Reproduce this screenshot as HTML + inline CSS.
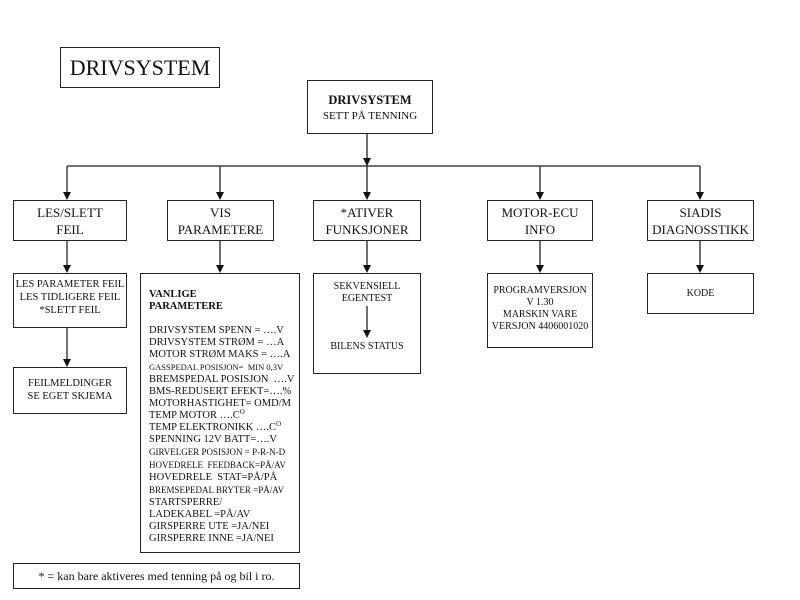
<!DOCTYPE html>
<html><head><meta charset="utf-8"><style>
body{margin:0;width:800px;height:600px;background:#fff;position:relative;overflow:hidden;font-family:"Liberation Serif",serif;color:#111}
.b{position:absolute;border:1.5px solid #222;box-sizing:border-box;text-align:center;background:#fff}
.t{position:absolute;text-align:center;white-space:nowrap}
svg{position:absolute;left:0;top:0}
.s{font-size:7px;position:relative;top:-4px;line-height:0}
</style></head><body>
<svg width="800" height="600">
<g stroke="#222" stroke-width="1.3" fill="none">
<line x1="367" y1="133" x2="367" y2="196"/>
<line x1="67" y1="166" x2="700" y2="166"/>
<line x1="67" y1="166" x2="67" y2="196"/>
<line x1="220" y1="166" x2="220" y2="196"/>
<line x1="540" y1="166" x2="540" y2="196"/>
<line x1="700" y1="166" x2="700" y2="196"/>
<line x1="67" y1="240" x2="67" y2="269"/>
<line x1="220" y1="240" x2="220" y2="269"/>
<line x1="367" y1="240" x2="367" y2="269"/>
<line x1="540" y1="240" x2="540" y2="269"/>
<line x1="700" y1="240" x2="700" y2="269"/>
<line x1="67" y1="327" x2="67" y2="363"/>
</g>
<g fill="#111">
<path d="M363,158 L371,158 L367,166 z"/>
<path d="M63,192 L71,192 L67,200 z"/>
<path d="M216,192 L224,192 L220,200 z"/>
<path d="M363,192 L371,192 L367,200 z"/>
<path d="M536,192 L544,192 L540,200 z"/>
<path d="M696,192 L704,192 L700,200 z"/>
<path d="M63,265 L71,265 L67,273 z"/>
<path d="M216,265 L224,265 L220,273 z"/>
<path d="M363,265 L371,265 L367,273 z"/>
<path d="M536,265 L544,265 L540,273 z"/>
<path d="M696,265 L704,265 L700,273 z"/>
<path d="M63,359 L71,359 L67,367 z"/>
</g></svg>
<div class="b" style="left:60px;top:47px;width:160px;height:41px;font-size:22px;line-height:39px">DRIVSYSTEM</div>
<div class="b" style="left:307px;top:80px;width:126px;height:54px;font-size:11px;line-height:15px;padding-top:12px"><b style="font-size:12.5px">DRIVSYSTEM</b><br>SETT PÅ TENNING</div>
<div class="b" style="left:13px;top:200px;width:114px;height:41px;font-size:13px;line-height:17px;padding-top:3px">LES/SLETT<br>FEIL</div>
<div class="b" style="left:167px;top:200px;width:107px;height:41px;font-size:13px;line-height:17px;padding-top:3px">VIS<br>PARAMETERE</div>
<div class="b" style="left:313px;top:200px;width:108px;height:41px;font-size:13px;line-height:17px;padding-top:3px">*ATIVER<br>FUNKSJONER</div>
<div class="b" style="left:487px;top:200px;width:106px;height:41px;font-size:13px;line-height:17px;padding-top:3px">MOTOR-ECU<br>INFO</div>
<div class="b" style="left:647px;top:200px;width:107px;height:41px;font-size:13px;line-height:17px;padding-top:3px">SIADIS<br>DIAGNOSSTIKK</div>
<div class="b" style="left:13px;top:273px;width:114px;height:55px;font-size:10.5px;line-height:13px;padding-top:4px">LES PARAMETER FEIL<br>LES TIDLIGERE FEIL<br>*SLETT FEIL</div>
<div class="b" style="left:13px;top:367px;width:114px;height:47px;font-size:10.5px;line-height:13px;padding-top:9px">FEILMELDINGER<br>SE EGET SKJEMA</div>
<div class="b" style="left:140px;top:273px;width:160px;height:280px;text-align:left;padding:15px 0 0 8px;font-size:10.5px;line-height:12px"><b>VANLIGE<br>PARAMETERE</b><br><br>DRIVSYSTEM SPENN = ….V<br>DRIVSYSTEM STRØM = …A<br>MOTOR STRØM MAKS = ….A<br><span style="font-size:8.5px">GASSPEDAL POSISJON= &nbsp;MIN 0,3V</span><br>BREMSPEDAL POSISJON &nbsp;….V<br>BMS-REDUSERT EFEKT=….%<br>MOTORHASTIGHET= OMD/M<br>TEMP MOTOR ….C<span class="s">O</span><br>TEMP ELEKTRONIKK ….C<span class="s">O</span><br>SPENNING 12V BATT=….V<br><span style="font-size:9px">GIRVELGER POSISJON = P-R-N-D</span><br><span style="font-size:9px">HOVEDRELE &nbsp;FEEDBACK=PÅ/AV</span><br>HOVEDRELE &nbsp;STAT=PÅ/PÅ<br><span style="font-size:9px">BREMSEPEDAL BRYTER =PÅ/AV</span><br>STARTSPERRE/<br>LADEKABEL =PÅ/AV<br>GIRSPERRE UTE =JA/NEI<br>GIRSPERRE INNE =JA/NEI</div>
<div class="b" style="left:313px;top:273px;width:108px;height:101px;font-size:10px;line-height:12px;padding-top:7px">SEKVENSIELL<br>EGENTEST</div>
<svg width="800" height="600"><line x1="367" y1="306" x2="367" y2="333" stroke="#222" stroke-width="1.3"/><path d="M363,330 L371,330 L367,338 z" fill="#111"/></svg>
<div class="t" style="left:313px;width:108px;top:341px;font-size:10px">BILENS STATUS</div>
<div class="b" style="left:487px;top:273px;width:106px;height:75px;font-size:10px;line-height:12px;padding-top:11px">PROGRAMVERSJON<br>V 1.30<br>MARSKIN VARE<br>VERSJON 4406001020</div>
<div class="b" style="left:647px;top:273px;width:107px;height:41px;font-size:10px;line-height:12px;padding-top:14px">KODE</div>
<div class="b" style="left:13px;top:563px;width:287px;height:26px;font-size:12px;line-height:24px">* = kan bare aktiveres med tenning på og bil i ro.</div>
</body></html>
